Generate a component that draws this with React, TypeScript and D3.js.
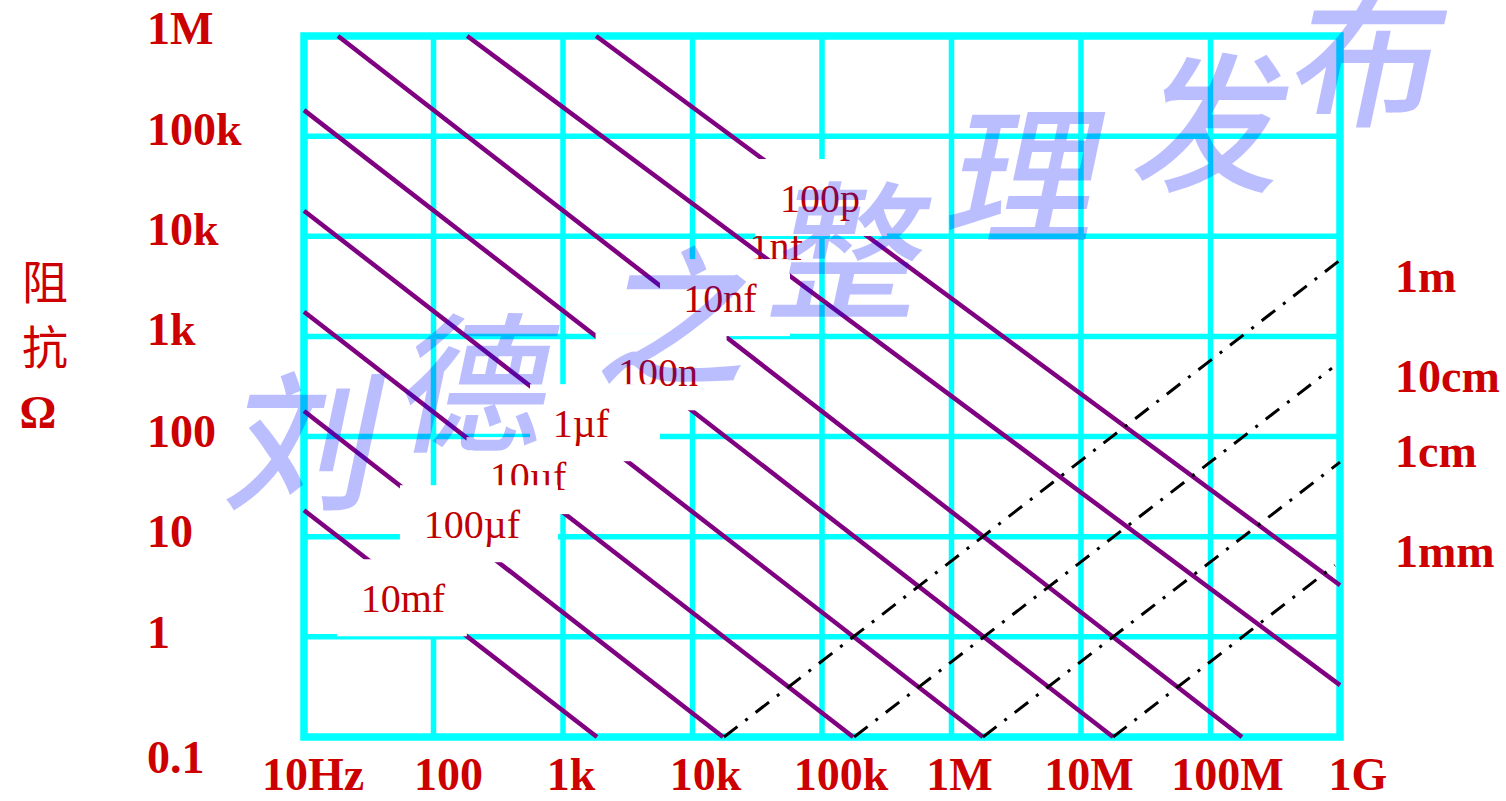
import React from 'react';
import * as d3 from 'd3';

// ---------- data ----------
const freqTicks = [10, 100, 1e3, 1e4, 1e5, 1e6, 1e7, 1e8, 1e9];
const freqLabels = ['10Hz', '100', '1k', '10k', '100k', '1M', '10M', '100M', '1G'];
const impTicks = [1e6, 1e5, 1e4, 1e3, 100, 10, 1, 0.1];
const impLabels = ['1M', '100k', '10k', '1k', '100', '10', '1', '0.1'];

// capacitor reactance lines (start / end points in Hz, ohm)
const capLabels = ['100p', '1nf', '10nf', '100n', '1\u00b5f', '10\u00b5f', '100\u00b5f', '10mf'];
const capStartF = [1800, 182, 18.3, 10, 10, 10, 10, 10];
const capStartZ = [1e6, 1e6, 1e6, 1.82e5, 1.8e4, 1.76e3, 180, 18.4];
const capEndF = [1e9, 1e9, 1.75e8, 1.77e7, 1.75e6, 1.74e5, 1.72e4, 1.83e3];
const capEndZ = [3.28, 0.33, 0.1, 0.1, 0.1, 0.1, 0.1, 0.1];
const capLabelF = [96600, 44200, 16300, 5420, 1377, 537, 198, 58];
const capLabelZ = [17460, 5780, 1750, 318, 98.6, 29.2, 9.66, 1.76];

// wire inductance lines
const indLabels = ['1m', '10cm', '1cm', '1mm'];
const indStartF = [1.75e4, 1.77e5, 1.75e6, 1.77e7];
const indStartZ = [0.1, 0.1, 0.1, 0.1];
const indEndF = [1e9, 8.67e8, 1e9, 9.14e8];
const indEndZ = [5780, 482, 55.5, 5.19];
const indLabelZ = [2770, 278, 49.5, 4.96];

const yTitle = ['\u963b', '\u6297', '\u03a9'];
const watermark = ['\u5218', '\u5fb7', '\u4e4b', '\u6574', '\u7406', '\u53d1', '\u5e03'];

// ---------- styles ----------
const W = 1506;
const H = 801;
const RED = '#CC0000';
const LABEL_RED = '#C00000';
const CYAN = '#00FFFF';
const PURPLE = '#7F0080';
const capBoxW = [132, 0, 130, 131, 130, 123, 158, 130];
const capBoxDx = [1, 0, 5, 3, 14, 0, 7, -1];
const boxOrder = [0, 2, 5, 3, 4, 6, 7];
const xLabelDx = [9, 15, 8, 13, 19, 8, 8, 17, 18];
const yLabelDy = [8, 9, 9, 9, 10, 10, 11, 36];
const wmPos = [
  [310, 433], [480, 375], [683, 308], [854, 243], [1030, 167], [1217, 115], [1372, 50],
];

export default function App() {
  const x = d3.scaleLog().domain([10, 1e9]).range([304, 1340]);
  const y = d3.scaleLog().domain([1e6, 0.1]).range([36, 737]);
  const line = d3.line<[number, number]>().x((d) => x(d[0])).y((d) => y(d[1]));

  const serif = "'Liberation Serif', 'Times New Roman', serif";

  return (
    <svg
      width={W}
      height={H}
      viewBox={`0 0 ${W} ${H}`}
      style={{ position: 'absolute', left: 0, top: 0, display: 'block', background: '#fff' }}
    >
      <rect x={0} y={0} width={W} height={H} fill="#fff" />
      {/* inner grid */}
      <g stroke={CYAN} strokeWidth={5.5}>
        {freqTicks.slice(1, -1).map((f) => (
          <line key={'vx' + f} x1={x(f)} x2={x(f)} y1={y(1e6)} y2={y(0.1)} />
        ))}
        {impTicks.slice(1, -1).map((z) => (
          <line key={'hy' + z} x1={x(10)} x2={x(1e9)} y1={y(z)} y2={y(z)} />
        ))}
      </g>
      <rect
        x={x(10)}
        y={y(1e6)}
        width={x(1e9) - x(10)}
        height={y(0.1) - y(1e6)}
        fill="none"
        stroke={CYAN}
        strokeWidth={7.5}
      />

      {/* 1nf label sits under the lines, without a box */}
      <text
        x={x(capLabelF[1])}
        y={y(capLabelZ[1])}
        textAnchor="middle"
        fontFamily={serif}
        fontSize={40}
        fill={LABEL_RED}
      >
        {capLabels[1]}
      </text>

      {/* capacitor lines */}
      <g fill="none" stroke={PURPLE} strokeWidth={4.5}>
        {capLabels.map((c, i) => (
          <path
            key={'cap' + c}
            d={line([
              [capStartF[i], capStartZ[i]],
              [capEndF[i], capEndZ[i]],
            ]) as string}
          />
        ))}
      </g>

      {/* inductance (wire length) lines */}
      <g fill="none" stroke="#000" strokeWidth={3} strokeDasharray="17,10,3,10">
        {indLabels.map((c, i) => (
          <path
            key={'ind' + c}
            d={line([
              [indStartF[i], indStartZ[i]],
              [indEndF[i], indEndZ[i]],
            ]) as string}
          />
        ))}
      </g>

      {/* labels with white boxes */}
      {boxOrder.map((i) => {
        const cx = x(capLabelF[i]);
        const by = y(capLabelZ[i]);
        const bw = capBoxW[i];
        return (
          <g key={'lab' + i}>
            <rect x={cx + capBoxDx[i] - bw / 2} y={by - 53} width={bw} height={77} fill="#fff" />
            <text x={cx} y={by} textAnchor="middle" fontFamily={serif} fontSize={40} fill={LABEL_RED}>
              {capLabels[i]}
            </text>
          </g>
        );
      })}

      {/* axis tick labels */}
      <g fontFamily={serif} fontWeight="bold" fontSize={46} fill={RED}>
        {impLabels.map((l, i) => (
          <text key={'yl' + l} x={147} y={y(impTicks[i]) + yLabelDy[i]}>
            {l}
          </text>
        ))}
        {freqLabels.map((l, i) => (
          <text key={'xl' + l} x={x(freqTicks[i]) + xLabelDx[i]} y={790} textAnchor="middle">
            {l}
          </text>
        ))}
        {indLabels.map((l, i) => (
          <text key={'il' + l} x={1395} y={y(indLabelZ[i])}>
            {l}
          </text>
        ))}
      </g>

      {/* y axis title */}
      <g fill={RED}>
        <text x={45} y={299} textAnchor="middle" fontFamily="'Noto Sans CJK SC'" fontSize={46}>
          {yTitle[0]}
        </text>
        <text x={45} y={364} textAnchor="middle" fontFamily="'Noto Sans CJK SC'" fontSize={46}>
          {yTitle[1]}
        </text>
        <text x={38} y={428} textAnchor="middle" fontFamily={serif} fontWeight="bold" fontSize={46}>
          {yTitle[2]}
        </text>
      </g>

      {/* watermark */}
      <g fill="rgb(0,10,250)" fillOpacity={0.27} fontFamily="'Noto Sans CJK SC'" fontWeight={500} fontSize={150}>
        {watermark.map((ch, i) => (
          <text
            key={'wm' + i}
            transform={`translate(${wmPos[i][0]},${wmPos[i][1]}) skewX(-12)`}
            textAnchor="middle"
            dominantBaseline="central"
          >
            {ch}
          </text>
        ))}
      </g>
    </svg>
  );
}
